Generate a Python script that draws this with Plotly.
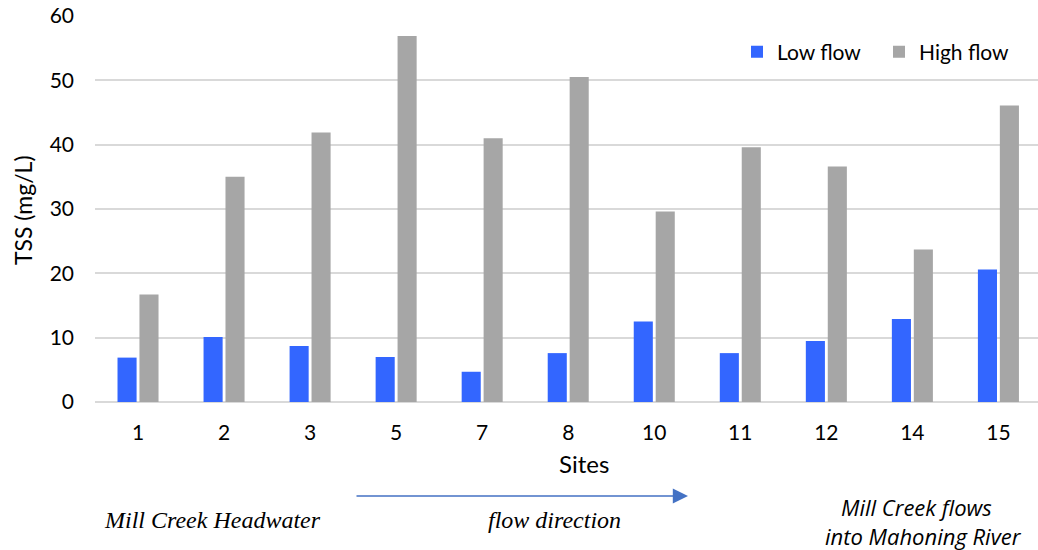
import plotly.graph_objects as go

sites = ["1", "2", "3", "5", "7", "8", "10", "11", "12", "14", "15"]
low_flow = [6.9, 10.1, 8.7, 7.0, 4.7, 7.6, 12.5, 7.6, 9.5, 12.9, 20.6]
high_flow = [16.7, 35.0, 41.9, 56.9, 41.0, 50.5, 29.6, 39.6, 36.6, 23.7, 46.1]

W, H = 1038, 550
L, R, T, B = 95, 0, 16, 550 - 402
PW, PH = W - L - R, H - T - B

def px(x):
    return (x - L) / PW

def py(y):
    return (T + PH - y) / PH

FONT = "Lato, 'Open Sans', sans-serif"
SERIF = "'Liberation Serif', 'Times New Roman', serif"
SANS_I = "'Open Sans', sans-serif"

fig = go.Figure()
fig.add_trace(go.Bar(name="Low flow", x=sites, y=low_flow, marker_color="#3366FF", marker_line_width=0))
fig.add_trace(go.Bar(name="High flow", x=sites, y=high_flow, marker_color="#A6A6A6", marker_line_width=0))

fig.update_layout(
    width=W, height=H,
    margin=dict(l=L, r=R, t=T, b=B),
    paper_bgcolor="white", plot_bgcolor="white",
    barmode="group", bargap=0.49, bargroupgap=0.13,
    font=dict(family=FONT, size=21, color="#000000"),
    showlegend=True,
    legend=dict(orientation="h", x=px(737), y=py(52), xanchor="left", yanchor="middle",
                font=dict(size=21), itemwidth=30, entrywidth=97, bgcolor="rgba(0,0,0,0)",
                traceorder="normal"),
    xaxis=dict(type="category", range=[-0.5, 10.46], showgrid=False, showline=False,
               ticks="", ticklabelstandoff=16, tickfont=dict(size=21)),
    yaxis=dict(range=[0, 60], dtick=10, showgrid=True, gridcolor="#D9D9D9", gridwidth=1.5,
               zeroline=True, zerolinecolor="#D9D9D9", zerolinewidth=1.5, showline=False,
               ticks="", tickfont=dict(size=21), ticklabelstandoff=20),
)

annotations = [
    dict(text="Sites", x=px(584), y=py(464), font=dict(size=24)),
    dict(text="TSS (mg/L)", x=px(23), y=py(210), textangle=-90, font=dict(size=23)),
    dict(text="<i>Mill Creek Headwater</i>", x=px(212), y=py(520), font=dict(family=SERIF, size=24)),
    dict(text="<i>flow direction</i>", x=px(554), y=py(520), font=dict(family=SERIF, size=24)),
    dict(text="<i>Mill Creek flows</i>", x=px(916), y=py(507), font=dict(family=SANS_I, size=22)),
    dict(text="<i>into Mahoning River</i>", x=px(923), y=py(536), font=dict(family=SANS_I, size=22)),
]
for a in annotations:
    fig.add_annotation(xref="paper", yref="paper", showarrow=False,
                       xanchor="center", yanchor="middle", **a)

fig.add_annotation(xref="paper", yref="paper", x=px(688), y=py(496),
                   axref="pixel", ayref="pixel", ax=-333, ay=0, text="",
                   showarrow=True, arrowhead=2, arrowsize=1.9, arrowwidth=1.6,
                   arrowcolor="#4472C4")

fig.write_html("out.html", config={"displayModeBar": False},
               post_script="document.body.style.margin='0px';")
